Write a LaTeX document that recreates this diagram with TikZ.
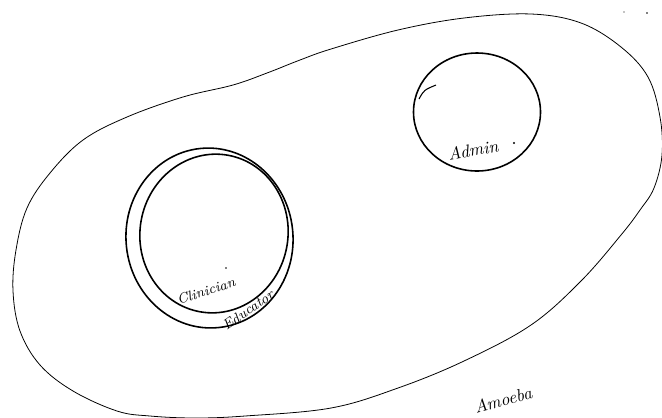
\documentclass[tikz,border=0pt]{standalone}
\usetikzlibrary{calc}

\begin{document}
\begin{tikzpicture}[x=0.02cm, y=-0.02cm,
    blob/.style={line width=0.45pt},
    ring/.style={line width=0.9pt},
    hand/.style={font=\itshape, inner sep=0pt}]
    \useasboundingbox (0,0) rectangle (662,417);

    % amoeba outline
    \draw[blob] plot[smooth cycle, tension=0.6] coordinates {
        (331,49) (398,30) (464,18) (531,14) (581,23) (621,47) (648,77)
        (660,117) (662,155) (654,188) (640,210) (621,235) (581,281)
        (531,325) (464,361) (398,388) (331,408) (245,416) (195,418)
        (150,416) (117,411) (73,391) (40,365) (20,331) (13,291) (16,250)
        (27,208) (50,173) (83,140) (127,117) (183,97) (233,85) (267,73)
        (300,60)};

    % educator and clinician
    \draw[ring] (209.5,238) ellipse [x radius=83.5, y radius=90, rotate=6];
    \draw[ring] (214,233.5) ellipse [x radius=74, y radius=79.5, rotate=-10];

    % admin
    \draw[ring] (477,112) ellipse [x radius=63.5, y radius=59];
    \draw[ring, line width=0.6pt] (419,99) .. controls (424,90) .. (436,85);

    \node[hand, rotate=10] (admin) at (473,150) {Admin};
    \node[hand, font=\footnotesize\itshape, rotate=18] (clinician) at (206,291) {Clinician};
    \node[hand, font=\footnotesize\itshape, rotate=35] (educator) at (248,310) {Educator};
    \node[hand, rotate=15] (amoeba) at (503,400) {Amoeba};

    % pen marks
    \fill (514,143) circle (1.2);
    \fill (226,268) circle (0.8);
    \fill (624,12) circle (0.7);
    \fill (647,13) circle (0.8);
\end{tikzpicture}
\end{document}
